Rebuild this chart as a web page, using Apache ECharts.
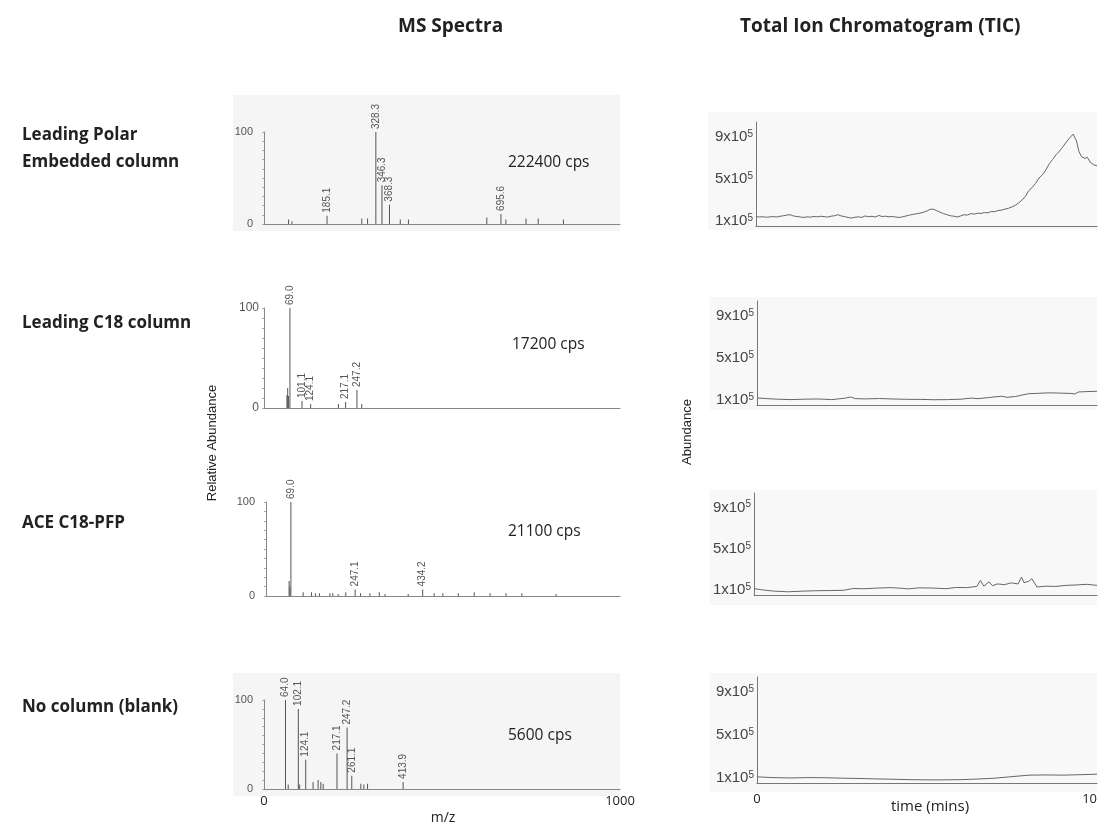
<!DOCTYPE html>
<html>
<head>
<meta charset="utf-8">
<script src="https://cdn.jsdelivr.net/npm/echarts@6/dist/echarts.min.js"></script>
<style>
  html, body { margin: 0; padding: 0; background: #fff; }
  #chart { width: 1101px; height: 824px; }
</style>
</head>
<body>
<div id="chart"></div>
<script>
// row labels and per-spectrum intensity
const columnNames = ["Leading Polar\nEmbedded column", "Leading C18 column", "ACE C18-PFP", "No column (blank)"];
const cpsLabels = ["222400 cps", "17200 cps", "21100 cps", "5600 cps"];

// MS spectra: m/z, relative abundance, and which peaks carry a label
const spec1Mz = [72, 82, 185.1, 287, 304, 328.3, 346.3, 368.3, 400, 424, 654, 695.6, 710, 769, 805, 879];
const spec1Int = [5, 3, 9, 6, 6, 100, 42, 21, 5, 5, 7, 11, 5, 6, 6, 5];
const spec1Labels = ["185.1", "328.3", "346.3", "368.3", "695.6"];

const spec2Mz = [61, 63, 65, 69.0, 101.1, 124.1, 198, 217.1, 247.2, 260];
const spec2Int = [13, 20, 12, 100, 7, 4, 4, 6, 18, 4];
const spec2Labels = ["69.0", "101.1", "124.1", "217.1", "247.2"];

const spec3Mz = [64, 66, 69.0, 103, 126, 137, 148, 177, 185, 200, 221, 247.1, 262, 288, 314, 330, 394, 434.2, 466, 490, 533, 577, 621, 665, 709, 804];
const spec3Int = [16, 10, 100, 4, 4, 3, 3, 3, 3, 2, 4, 7, 3, 3, 4, 2, 2, 7, 3, 3, 3, 4, 3, 3, 3, 2];
const spec3Labels = ["69.0", "247.1", "434.2"];

const spec4Mz = [64.0, 72, 102.1, 106, 124.1, 146, 161, 169, 176, 217.1, 247.2, 261.1, 288, 297, 308, 413.9];
const spec4Int = [100, 5, 90, 5, 33, 8, 10, 8, 6, 40, 69, 15, 6, 5, 6, 8];
const spec4Labels = ["64.0", "102.1", "124.1", "217.1", "247.2", "261.1", "413.9"];

// each pasted spectrum has its own m/z scale; axis end is labelled 1000
const mzAxisMax = [1045, 947, 981, 1059];
const mzTickLabels = ["0", "1000"];
const relTicks = [0, 100];
const relMinorTicks = [0, 10, 20, 30, 40, 50, 60, 70, 80, 90, 100];

// TIC traces: [time (min), abundance x10^5]
const tic1 = [[0, 1.45], [0.1, 1.40], [0.2, 1.43], [0.3, 1.38], [0.4, 1.41], [0.5, 1.44], [0.6, 1.40], [0.7, 1.47], [0.8, 1.52], [0.9, 1.58], [1.0, 1.62], [1.1, 1.50], [1.2, 1.45], [1.3, 1.40], [1.4, 1.36], [1.5, 1.42], [1.6, 1.39], [1.7, 1.45], [1.8, 1.42], [1.9, 1.47], [2.0, 1.44], [2.1, 1.40], [2.2, 1.48], [2.3, 1.52], [2.4, 1.62], [2.5, 1.50], [2.6, 1.44], [2.7, 1.36], [2.8, 1.30], [2.9, 1.38], [3.0, 1.42], [3.1, 1.36], [3.2, 1.50], [3.3, 1.43], [3.4, 1.47], [3.5, 1.40], [3.6, 1.55], [3.7, 1.44], [3.8, 1.48], [3.9, 1.42], [4.0, 1.45], [4.1, 1.40], [4.2, 1.36], [4.3, 1.42], [4.4, 1.50], [4.5, 1.58], [4.6, 1.65], [4.7, 1.70], [4.8, 1.76], [4.9, 1.84], [5.0, 1.95], [5.1, 2.12], [5.15, 2.25], [5.2, 2.15], [5.3, 2.0], [5.4, 1.85], [5.5, 1.72], [5.6, 1.62], [5.7, 1.52], [5.8, 1.48], [5.9, 1.40], [6.0, 1.50], [6.1, 1.62], [6.2, 1.58], [6.3, 1.72], [6.4, 1.68], [6.5, 1.76], [6.6, 1.74], [6.7, 1.82], [6.8, 1.80], [6.9, 1.92], [7.0, 1.90], [7.1, 2.02], [7.2, 2.05], [7.3, 2.15], [7.4, 2.22], [7.5, 2.35], [7.6, 2.50], [7.7, 2.72], [7.8, 3.0], [7.9, 3.35], [8.0, 3.9], [8.1, 4.2], [8.2, 4.6], [8.3, 5.1], [8.4, 5.4], [8.5, 5.85], [8.6, 6.45], [8.7, 6.85], [8.8, 7.3], [8.9, 7.65], [9.0, 8.05], [9.1, 8.5], [9.2, 8.9], [9.3, 9.25], [9.35, 9.3], [9.4, 8.6], [9.47, 7.6], [9.55, 7.1], [9.65, 6.95], [9.72, 7.05], [9.8, 6.6], [9.9, 6.35], [10, 6.25]];
const tic2 = [[0, 1.22], [0.3, 1.15], [0.6, 1.10], [1.0, 1.06], [1.4, 1.10], [1.8, 1.12], [2.2, 1.06], [2.6, 1.20], [2.75, 1.31], [2.9, 1.15], [3.2, 1.13], [3.6, 1.16], [4.0, 1.12], [4.4, 1.09], [4.8, 1.08], [5.2, 1.05], [5.6, 1.06], [6.0, 1.10], [6.3, 1.20], [6.5, 1.15], [6.8, 1.25], [7.0, 1.32], [7.2, 1.38], [7.35, 1.28], [7.6, 1.35], [7.8, 1.50], [8.0, 1.62], [8.3, 1.66], [8.6, 1.70], [8.9, 1.68], [9.2, 1.65], [9.35, 1.60], [9.45, 1.78], [9.7, 1.82], [10, 1.85]];
const tic3 = [[0, 1.16], [0.3, 1.02], [0.6, 0.92], [1.0, 0.86], [1.4, 0.92], [1.8, 0.96], [2.2, 0.98], [2.6, 1.0], [2.9, 1.18], [3.2, 1.15], [3.6, 1.22], [4.0, 1.26], [4.3, 1.20], [4.5, 1.14], [4.8, 1.24], [5.2, 1.22], [5.6, 1.16], [5.9, 1.28], [6.2, 1.26], [6.5, 1.38], [6.6, 1.95], [6.7, 1.40], [6.85, 1.82], [6.95, 1.45], [7.1, 1.62], [7.3, 1.55], [7.5, 1.72], [7.7, 1.62], [7.8, 2.28], [7.87, 1.75], [8.0, 1.85], [8.1, 2.12], [8.15, 1.95], [8.25, 1.32], [8.5, 1.40], [8.8, 1.38], [9.1, 1.48], [9.4, 1.52], [9.7, 1.58], [10, 1.48]];
const tic4 = [[0, 1.12], [0.5, 1.05], [1.0, 1.02], [1.5, 1.05], [2.0, 1.04], [2.5, 1.0], [3.0, 0.97], [3.5, 0.93], [4.0, 0.90], [4.5, 0.86], [5.0, 0.84], [5.5, 0.84], [6.0, 0.86], [6.5, 0.92], [7.0, 1.0], [7.5, 1.14], [8.0, 1.28], [8.5, 1.30], [9.0, 1.28], [9.5, 1.32], [10, 1.37]];
const ticTicks = [1, 5, 9];
const timeTicks = [0, 10];

const spectra = [
  [spec1Mz, spec1Int, spec1Labels],
  [spec2Mz, spec2Int, spec2Labels],
  [spec3Mz, spec3Int, spec3Labels],
  [spec4Mz, spec4Int, spec4Labels],
];
const tics = [tic1, tic2, tic3, tic4];

// panel layout (px)
const specGrids = [
  { left: 264, top: 132, width: 356, height: 92 },
  { left: 264, top: 308, width: 356, height: 100 },
  { left: 266, top: 502, width: 354, height: 94 },
  { left: 264, top: 700, width: 356, height: 89 },
];
const ticGrids = [
  { left: 756, top: 122, width: 341, height: 104 },
  { left: 757, top: 301, width: 340, height: 104 },
  { left: 754, top: 493, width: 343, height: 102 },
  { left: 757, top: 677, width: 340, height: 106 },
];
const rowLabelY = [149, 323, 523, 707];
const cpsPos = [[508, 163], [512, 345], [508, 532], [508, 736]];
const panelBgs = [
  [233, 95, 387, 136, "#f5f5f5"],
  [233, 673, 387, 123, "#f5f5f5"],
  [708, 112, 389, 118, "#f8f8f8"],
  [710, 297, 387, 113, "#f8f8f8"],
  [710, 490, 387, 115, "#f8f8f8"],
  [710, 673, 387, 119, "#f8f8f8"],
];

const sansFont = "Liberation Sans";
const textFont = "Open Sans";

const chart = echarts.init(document.getElementById("chart"));

const grids = [];
const xAxes = [];
const yAxes = [];
const series = [];

spectra.forEach(([mz, inten, labels], i) => {
  const last = i === 3;
  grids.push({ ...specGrids[i], outerBoundsMode: "none" });
  xAxes.push({
    type: "value",
    gridIndex: i,
    min: 0,
    max: mzAxisMax[i],
    splitLine: { show: false },
    axisTick: { show: false },
    axisLine: { lineStyle: { color: "#888", width: 1 } },
    axisLabel: {
      show: last,
      customValues: [0, mzAxisMax[i]],
      formatter: (v) => (v === 0 ? mzTickLabels[0] : mzTickLabels[1]),
      color: "#222",
      fontFamily: textFont,
      fontSize: 13,
      margin: 6,
    },
  });
  yAxes.push({
    type: "value",
    gridIndex: i,
    min: 0,
    max: 100,
    splitLine: { show: false },
    axisTick: { show: true, customValues: relMinorTicks, length: 2, lineStyle: { color: "#aaa" } },
    axisLine: { show: true, lineStyle: { color: "#888", width: 1 } },
    axisLabel: {
      customValues: relTicks,
      color: "#555",
      fontFamily: sansFont,
      fontSize: i === 1 ? 12 : 11,
      margin: i === 1 ? 5 : 11,
    },
  });
  series.push({
    type: "bar",
    xAxisIndex: i,
    yAxisIndex: i,
    barWidth: 1,
    itemStyle: { color: "#555" },
    label: {
      position: "top",
      rotate: 90,
      align: "left",
      verticalAlign: "middle",
      distance: 3,
      color: "#555",
      fontFamily: sansFont,
      fontSize: 10,
      formatter: (p) => p.value[0].toFixed(1),
    },
    data: mz.map((m, k) => ({
      value: [m, inten[k]],
      label: { show: labels.includes(m.toFixed(1)) },
    })),
  });
});

tics.forEach((tic, i) => {
  const idx = 4 + i;
  const last = i === 3;
  grids.push({ ...ticGrids[i], outerBoundsMode: "none" });
  xAxes.push({
    type: "value",
    gridIndex: idx,
    min: 0,
    max: 10,
    splitLine: { show: false },
    axisTick: { show: false },
    axisLine: { lineStyle: { color: "#777", width: 1 } },
    axisLabel: {
      show: last,
      customValues: timeTicks,
      alignMaxLabel: "right",
      color: "#222",
      fontFamily: textFont,
      fontSize: 13,
      margin: 10,
    },
  });
  yAxes.push({
    type: "value",
    gridIndex: idx,
    min: 0.55,
    max: 10.4,
    splitLine: { show: false },
    axisTick: { show: false },
    axisLine: { show: true, lineStyle: { color: "#777", width: 1 } },
    axisLabel: {
      customValues: ticTicks,
      formatter: (v) => v + "x10{sup|5}",
      color: "#444",
      fontFamily: sansFont,
      fontSize: 15,
      margin: 3,
      rich: { sup: { fontSize: 10, fontFamily: sansFont, color: "#444", padding: [0, 0, 6, 0] } },
    },
  });
  series.push({
    type: "line",
    xAxisIndex: idx,
    yAxisIndex: idx,
    showSymbol: false,
    lineStyle: { color: "#666", width: 1 },
    data: tic,
  });
});

const graphic = [];
panelBgs.forEach(([x, y, w, h, c]) => {
  graphic.push({ type: "rect", z: -10, shape: { x, y, width: w, height: h }, style: { fill: c } });
});
const txt = (text, x, y, opts = {}) => ({
  type: "text",
  x,
  y,
  rotation: opts.rotation || 0,
  style: {
    text,
    fill: opts.fill || "#222",
    fontFamily: opts.fontFamily || textFont,
    fontSize: opts.fontSize || 14,
    fontWeight: opts.fontWeight || "normal",
    lineHeight: opts.lineHeight,
    align: opts.align || "left",
    verticalAlign: "middle",
  },
});
graphic.push(txt("MS Spectra", 398, 27, { fontSize: 19, fontWeight: "bold" }));
graphic.push(txt("Total Ion Chromatogram (TIC)", 740, 27, { fontSize: 19, fontWeight: "bold" }));
columnNames.forEach((name, i) => {
  graphic.push(txt(name, 22, rowLabelY[i], { fontSize: 17, fontWeight: "bold", lineHeight: 27 }));
});
cpsLabels.forEach((t, i) => {
  graphic.push(txt(t, cpsPos[i][0], cpsPos[i][1], { fontSize: 15.5 }));
});
graphic.push(txt("Relative Abundance", 212, 443, { rotation: Math.PI / 2, align: "center", fontFamily: sansFont, fontSize: 13 }));
graphic.push(txt("Abundance", 687, 432, { rotation: Math.PI / 2, align: "center", fontFamily: sansFont, fontSize: 13 }));
graphic.push(txt("m/z", 443, 818, { align: "center", fontSize: 14 }));
graphic.push(txt("time (mins)", 930, 807, { align: "center", fontSize: 15 }));

chart.setOption({
  animation: false,
  backgroundColor: "#fff",
  grid: grids,
  xAxis: xAxes,
  yAxis: yAxes,
  series,
  graphic,
});
</script>
</body>
</html>
